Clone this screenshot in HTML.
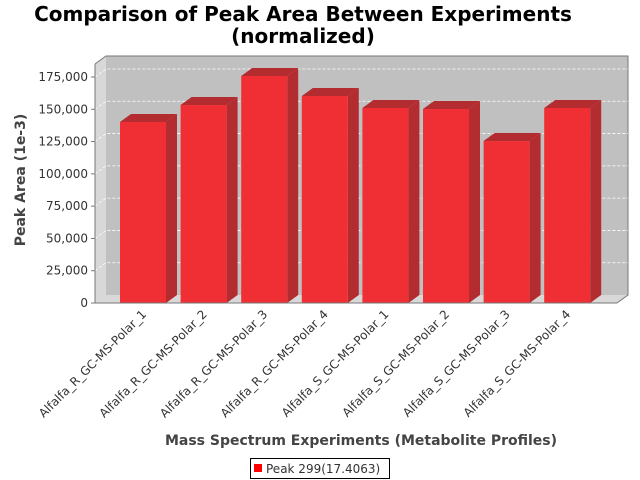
<!DOCTYPE html>
<html><head><meta charset="utf-8"><style>
body{margin:0;background:#fff}
svg{display:block;font-family:"DejaVu Sans","Liberation Sans",sans-serif}
</style></head><body>
<svg width="640" height="480" viewBox="0 0 640 480">
<text x="303" y="21" text-anchor="middle" font-size="20" font-weight="bold" fill="#000">Comparison of Peak Area Between Experiments</text>
<text x="303" y="43" text-anchor="middle" font-size="20" font-weight="bold" fill="#000">(normalized)</text>
<g id="plot"></g>
<text x="361" y="445" text-anchor="middle" font-size="14" font-weight="bold" fill="#444">Mass Spectrum Experiments (Metabolite Profiles)</text>
<text transform="translate(25,180) rotate(-90)" text-anchor="middle" font-size="14" font-weight="bold" fill="#444">Peak Area (1e-3)</text>
<g>
<rect x="250.5" y="458.5" width="139" height="20" fill="#fff" stroke="#000"/>
<rect x="254" y="464" width="8" height="8" fill="#ff0000"/>
<text x="266" y="473" font-size="12" fill="#333">Peak 299(17.4063)</text>
</g>
</svg>
<script>
const categories=["Alfalfa_R_GC-MS-Polar_1","Alfalfa_R_GC-MS-Polar_2","Alfalfa_R_GC-MS-Polar_3","Alfalfa_R_GC-MS-Polar_4","Alfalfa_S_GC-MS-Polar_1","Alfalfa_S_GC-MS-Polar_2","Alfalfa_S_GC-MS-Polar_3","Alfalfa_S_GC-MS-Polar_4"];
const values=[140200,153300,175800,160300,151000,150200,125400,151000];
const yTicks=[0,25000,50000,75000,100000,125000,150000,175000];
const yTickLabels=["0","25,000","50,000","75,000","100,000","125,000","150,000","175,000"];
const NS="http://www.w3.org/2000/svg";
const g=document.getElementById('plot');
const x0=95,x1=617,yB=303,dx=11,dy=8,yMax=175000,yTopPx=77;
function y(v){return yB-(v/yMax)*(yB-yTopPx);}
const step=60.6,bw=46,start=120;
function xc(i){return start+i*step;}
function mk(tag,attrs){const e=document.createElementNS(NS,tag);for(const k in attrs)e.setAttribute(k,attrs[k]);g.appendChild(e);return e;}
let e;
e=mk('polygon',{points:`${x0},${yB} ${x0+dx},${yB-dy} ${x0+dx},${56} ${x0},${56+dy}`,fill:'#d8d8d8'});


e=mk('polygon',{points:`${x0},${yB} ${x1},${yB} ${x1+dx},${yB-dy} ${x0+dx},${yB-dy}`,fill:'#d8d8d8'});


e=mk('rect',{x:x0+dx,y:56,width:x1-x0,height:yB-dy-56,fill:'#c0c0c0'});


e=mk('polyline',{points:`${x0},${56+dy} ${x0+dx},56 ${x1+dx},56 ${x1+dx},${yB-dy} ${x1},${yB}`,fill:'none',stroke:'#777','stroke-width':1});


yTicks.forEach((t,i)=>{
  const yy=y(t);
  if(t>0){
    e=mk('polyline',{points:`${x0},${yy} ${x0+dx},${yy-dy} ${x1+dx},${yy-dy}`,fill:'none',stroke:'#fff','stroke-width':0.8,'stroke-dasharray':'3,2'});
    
    
  }
  e=mk('line',{x1:x0-4,y1:yy,x2:x0,y2:yy,stroke:'#777'});
  
  
  e=mk('text',{x:x0-7,y:yy+4,'text-anchor':'end','font-size':12,fill:'#333'});
  e.textContent=yTickLabels[i];
  
  
});
e=mk('line',{x1:x0,y1:56+dy,x2:x0,y2:yB,stroke:'#777'});


values.forEach((v,i)=>{
  const xl=xc(i),yt=y(v);
  e=mk('polygon',{points:`${xl+bw},${yB} ${xl+bw+dx},${yB-dy} ${xl+bw+dx},${yt-dy} ${xl+bw},${yt}`,fill:'#b32c30'});
  
  
  e=mk('polygon',{points:`${xl},${yt} ${xl+dx},${yt-dy} ${xl+bw+dx},${yt-dy} ${xl+bw},${yt}`,fill:'#b32c30'});
  
  
  e=mk('rect',{x:xl,y:yt,width:bw,height:yB-yt,fill:'#ef2f33'});
  
  
  const cx=xl+bw/2+4;
  e=mk('text',{x:cx,y:315,'text-anchor':'end','font-size':12,fill:'#333',transform:`rotate(-45 ${cx} 315)`});
  e.textContent=categories[i];
  
  
});
e=mk('line',{x1:x0,y1:yB,x2:x1,y2:yB,stroke:'#777'});


</script>
</body></html>
